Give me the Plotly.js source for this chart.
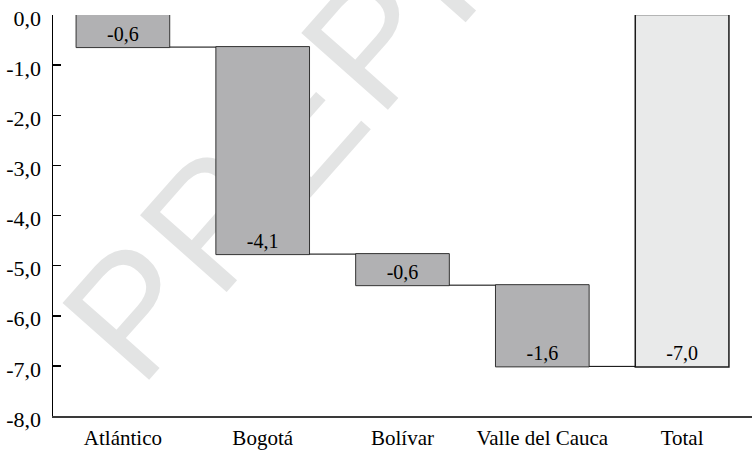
<!DOCTYPE html>
<html>
<head>
<meta charset="utf-8">
<script src="https://cdn.plot.ly/plotly-3.0.1.min.js"></script>
<style>
  html, body { margin: 0; padding: 0; background: #ffffff; }
  #wrap { position: relative; width: 752px; height: 450px; }
  #wm { position: absolute; left: 0; top: 0; z-index: 0; }
  #chart { position: absolute; left: 0; top: 0; width: 752px; height: 450px; z-index: 1; }
</style>
</head>
<body>
<div id="wrap">
  <svg id="wm" width="752" height="450">
    <text x="140" y="390" transform="rotate(-48.5 140 390)" font-family="Liberation Sans" font-size="168" letter-spacing="5" fill="#e3e4e4">PREPRINT</text>
  </svg>
  <div id="chart"></div>
</div>
<script>
const categories = ["Atlántico", "Bogotá", "Bolívar", "Valle del Cauca", "Total"];
const deltas = [-0.64, -4.13, -0.62, -1.62];
const measures = ["relative", "relative", "relative", "relative", "total"];
const yTickVals = [0, -1, -2, -3, -4, -5, -6, -7, -8];

const fmt = v => v.toFixed(1).replace('.', ',');
const total = deltas.reduce((a, b) => a + b, 0);
const yValues = deltas.concat([0]);
const labels = deltas.map(fmt).concat([fmt(total)]);
const yTickText = yTickVals.map(fmt);

const SERIF = 'Liberation Serif';

const trace = {
  type: 'waterfall',
  x: categories,
  y: yValues,
  measure: measures,
  text: labels,
  textinfo: 'text',
  textposition: 'inside',
  insidetextanchor: 'end',
  constraintext: 'none',
  textfont: { family: SERIF, size: 20, color: '#000000' },
  width: 0.67,
  decreasing: { marker: { color: '#b1b1b3', line: { color: '#333333', width: 1 } } },
  increasing: { marker: { color: '#b1b1b3', line: { color: '#333333', width: 1 } } },
  totals: { marker: { color: '#e9eaea', line: { color: '#1a1a1a', width: 1.5 } } },
  connector: { mode: 'between', line: { color: '#000000', width: 1 } },
  hoverinfo: 'skip'
};

const layout = {
  width: 752,
  height: 450,
  margin: { l: 53, r: 0, t: 15, b: 34 },
  paper_bgcolor: 'rgba(0,0,0,0)',
  plot_bgcolor: 'rgba(0,0,0,0)',
  showlegend: false,
  font: { family: SERIF, size: 21, color: '#000000' },
  xaxis: {
    type: 'category',
    range: [-0.5, 4.5],
    showline: true,
    linecolor: '#3a3a3a',
    linewidth: 2,
    ticks: '',
    showgrid: false,
    zeroline: false,
    ticklabelstandoff: 2,
    tickfont: { family: SERIF, size: 21, color: '#000000' }
  },
  yaxis: {
    range: [-8, 0],
    tickmode: 'array',
    tickvals: yTickVals,
    ticktext: yTickText,
    showline: true,
    linecolor: '#000000',
    linewidth: 1.5,
    ticks: 'inside',
    ticklen: 8,
    tickwidth: 1.5,
    tickcolor: '#000000',
    showgrid: false,
    zeroline: false,
    ticklabelstandoff: 6,
    ticklabelshift: 3,
    tickfont: { family: SERIF, size: 22, color: '#000000' }
  }
};

Plotly.newPlot('chart', [trace], layout, { staticPlot: true, displayModeBar: false });
</script>
</body>
</html>
